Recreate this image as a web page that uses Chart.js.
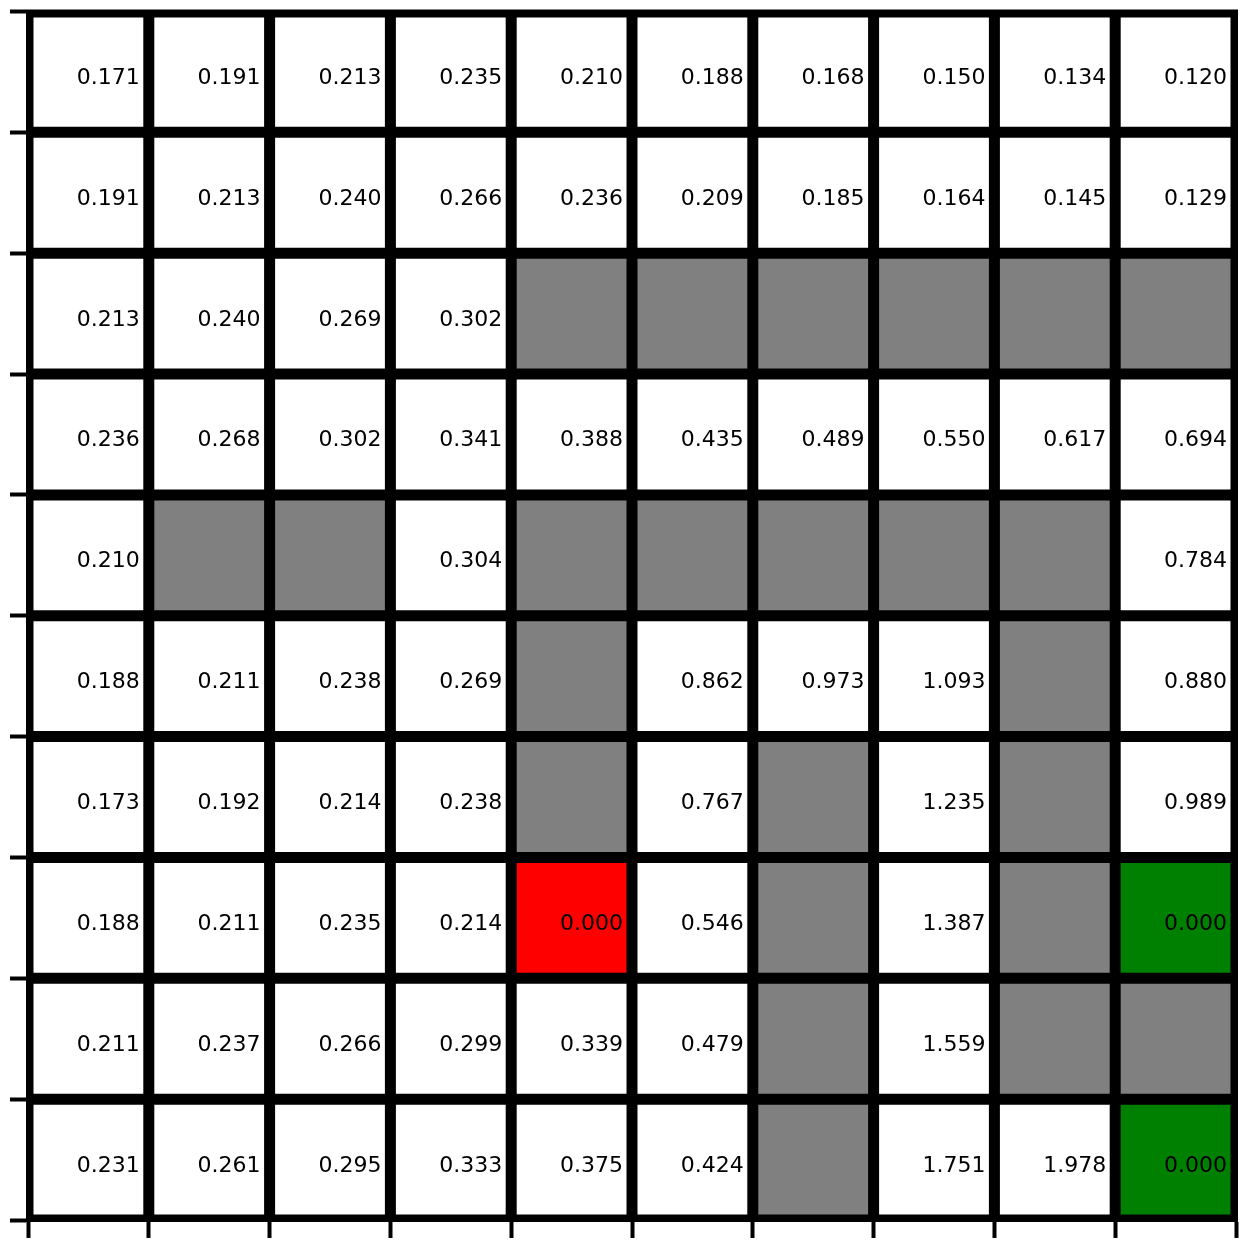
<!DOCTYPE html>
<html>
<head>
<meta charset="utf-8">
<script src="https://cdn.jsdelivr.net/npm/chart.js@4/dist/chart.umd.min.js"></script>
<style>
html,body{margin:0;padding:0;background:#ffffff;}
#wrap{width:1253px;height:1243px;position:relative;}
</style>
</head>
<body>
<div id="wrap"><canvas id="c" width="1253" height="1243"></canvas></div>
<script>
// Columns of the grid
const columns = ['0','1','2','3','4','5','6','7','8','9'];

// Cell values per row (null = wall, no text)
const row0 = [0.171, 0.191, 0.213, 0.235, 0.210, 0.188, 0.168, 0.150, 0.134, 0.120];
const row1 = [0.191, 0.213, 0.240, 0.266, 0.236, 0.209, 0.185, 0.164, 0.145, 0.129];
const row2 = [0.213, 0.240, 0.269, 0.302, null, null, null, null, null, null];
const row3 = [0.236, 0.268, 0.302, 0.341, 0.388, 0.435, 0.489, 0.550, 0.617, 0.694];
const row4 = [0.210, null, null, 0.304, null, null, null, null, null, 0.784];
const row5 = [0.188, 0.211, 0.238, 0.269, null, 0.862, 0.973, 1.093, null, 0.880];
const row6 = [0.173, 0.192, 0.214, 0.238, null, 0.767, null, 1.235, null, 0.989];
const row7 = [0.188, 0.211, 0.235, 0.214, 0.000, 0.546, null, 1.387, null, 0.000];
const row8 = [0.211, 0.237, 0.266, 0.299, 0.339, 0.479, null, 1.559, null, null];
const row9 = [0.231, 0.261, 0.295, 0.333, 0.375, 0.424, null, 1.751, 1.978, 0.000];
const rows = [row0, row1, row2, row3, row4, row5, row6, row7, row8, row9];

// Cell kinds per row: '.' open, 'W' wall, 'R' pit, 'G' goal
const kinds = [
  '..........',
  '..........',
  '....WWWWWW',
  '..........',
  '.WW.WWWWW.',
  '....W...W.',
  '....W.W.W.',
  '....R.W.WG',
  '......W.WW',
  '......W..G'
];
const kindColors = { '.': '#ffffff', 'W': '#808080', 'R': '#ff0000', 'G': '#008000' };

const datasets = rows.map((vals, r) => ({
  label: 'row ' + r,
  data: columns.map(() => [r, r + 1]),
  cellValues: vals,
  backgroundColor: columns.map((_, c) => kindColors[kinds[r][c]]),
  borderColor: '#000000',
  borderWidth: 5.5,
  borderSkipped: false,
  grouped: false,
  barPercentage: 1,
  categoryPercentage: 1,
  inflateAmount: 0
}));

// black frame/backdrop behind the cells: keeps seams black and gives the 4 spines
const backdrop = {
  id: 'backdrop',
  beforeDatasetsDraw(chart) {
    const { ctx, chartArea: a } = chart;
    ctx.save();
    ctx.fillStyle = '#000000';
    ctx.fillRect(a.left - 2, a.top - 2, a.right - a.left + 4, a.bottom - a.top + 4);
    ctx.restore();
  }
};

const cellText = {
  id: 'cellText',
  afterDatasetsDraw(chart) {
    const ctx = chart.ctx;
    ctx.save();
    ctx.font = '22px "DejaVu Sans"';
    ctx.fillStyle = '#000000';
    ctx.textAlign = 'right';
    ctx.textBaseline = 'alphabetic';
    chart.data.datasets.forEach((ds, di) => {
      const meta = chart.getDatasetMeta(di);
      meta.data.forEach((el, i) => {
        const v = ds.cellValues[i];
        if (v === null || v === undefined) return;
        const right = el.x + el.width / 2 - 9;
        const cy = (el.y + el.base) / 2 + 12;
        ctx.fillText(v.toFixed(3), right, cy);
      });
    });
    ctx.restore();
  }
};

const gridStyle = {
  drawOnChartArea: false,
  drawTicks: true,
  tickLength: 18,
  tickWidth: 4,
  tickColor: '#000000'
};
const spine = { display: true, color: '#000000', width: 4 };

new Chart(document.getElementById('c'), {
  type: 'bar',
  data: { labels: columns, datasets: datasets },
  options: {
    responsive: false,
    animation: false,
    devicePixelRatio: 1,
    layout: { padding: { left: 10, top: 11.5, right: 17, bottom: 5 } },
    plugins: { legend: { display: false }, tooltip: { enabled: false } },
    scales: {
      x: {
        type: 'category',
        offset: true,
        ticks: { display: false },
        grid: Object.assign({ offset: true }, gridStyle),
        border: spine
      },
      y: {
        type: 'linear',
        min: 0,
        max: 10,
        reverse: true,
        ticks: { display: false, stepSize: 1 },
        grid: Object.assign({}, gridStyle),
        border: spine
      }
    }
  },
  plugins: [backdrop, cellText]
});
</script>
</body>
</html>
